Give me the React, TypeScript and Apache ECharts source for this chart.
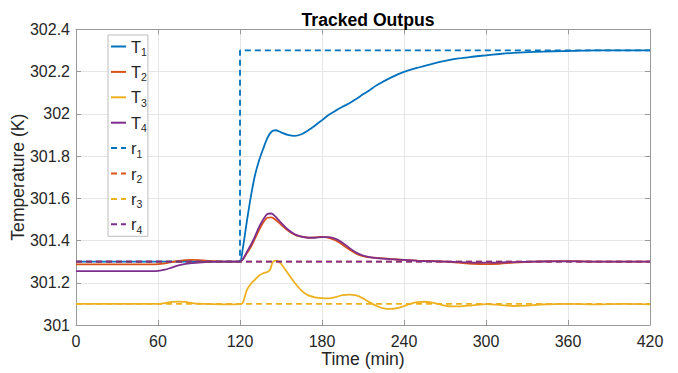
import { useEffect, useRef } from 'react';
import * as echarts from 'echarts';

// Time samples (min) for T1, T2, T4
const timeT = [0, 20, 40, 55, 60, 65, 70, 75, 80, 85, 90, 95, 100, 110, 118, 120, 122, 125, 128, 131, 134, 137, 140, 143, 146, 150, 155, 160, 165, 170, 175, 180, 185, 190, 195, 200, 205, 210, 215, 220, 230, 240, 250, 260, 270, 280, 290, 300, 310, 320, 335, 350, 365, 380, 400, 420];
const t1Values = [301.3, 301.3, 301.3, 301.3, 301.3, 301.3, 301.3, 301.3, 301.3, 301.3, 301.3, 301.3, 301.3, 301.3, 301.3, 301.3, 301.36, 301.49, 301.61, 301.71, 301.78, 301.835, 301.885, 301.915, 301.922, 301.912, 301.9, 301.895, 301.903, 301.922, 301.945, 301.97, 301.995, 302.015, 302.033, 302.05, 302.07, 302.092, 302.113, 302.135, 302.17, 302.198, 302.218, 302.235, 302.25, 302.262, 302.27, 302.277, 302.283, 302.288, 302.293, 302.296, 302.298, 302.3, 302.3, 302.3];
const t2Values = [301.287, 301.287, 301.287, 301.287, 301.288, 301.292, 301.298, 301.303, 301.307, 301.308, 301.307, 301.305, 301.303, 301.3, 301.3, 301.3, 301.31, 301.34, 301.37, 301.41, 301.45, 301.485, 301.508, 301.51, 301.498, 301.475, 301.447, 301.428, 301.418, 301.414, 301.415, 301.417, 301.413, 301.4, 301.38, 301.357, 301.338, 301.326, 301.32, 301.318, 301.313, 301.308, 301.305, 301.303, 301.3, 301.295, 301.29, 301.288, 301.29, 301.295, 301.3, 301.302, 301.302, 301.3, 301.3, 301.3];
const t4Values = [301.255, 301.255, 301.255, 301.255, 301.256, 301.262, 301.272, 301.282, 301.289, 301.293, 301.296, 301.298, 301.299, 301.3, 301.3, 301.3, 301.31, 301.345, 301.38, 301.42, 301.465, 301.5, 301.525, 301.528, 301.513, 301.485, 301.452, 301.43, 301.418, 301.413, 301.413, 301.416, 301.416, 301.408, 301.39, 301.365, 301.343, 301.329, 301.321, 301.317, 301.312, 301.308, 301.304, 301.302, 301.3, 301.298, 301.296, 301.295, 301.296, 301.298, 301.3, 301.301, 301.301, 301.3, 301.3, 301.3];

// Time samples (min) for T3
const timeT3 = [0, 20, 40, 60, 65, 70, 75, 80, 85, 90, 100, 110, 120, 122, 125, 128, 131, 134, 137, 140, 142, 144, 147, 150, 155, 160, 165, 170, 175, 180, 185, 190, 195, 200, 205, 210, 215, 220, 225, 230, 235, 240, 245, 250, 255, 260, 265, 270, 275, 280, 290, 300, 310, 320, 330, 340, 360, 380, 400, 420];
const t3Values = [301.1, 301.1, 301.1, 301.1, 301.104, 301.109, 301.111, 301.109, 301.104, 301.101, 301.099, 301.098, 301.099, 301.105, 301.165, 301.195, 301.215, 301.234, 301.245, 301.251, 301.262, 301.298, 301.305, 301.29, 301.245, 301.2, 301.163, 301.14, 301.131, 301.127, 301.126, 301.132, 301.141, 301.144, 301.14, 301.126, 301.107, 301.09, 301.079, 301.076, 301.08, 301.09, 301.101, 301.108, 301.11, 301.107, 301.1, 301.092, 301.088, 301.088, 301.093, 301.099, 301.095, 301.09, 301.092, 301.097, 301.1, 301.098, 301.1, 301.098];

// Reference set-points
const timeR = [0, 120, 120, 420];
const r1Values = [301.3, 301.3, 302.3, 302.3];
const r2Values = [301.3, 301.3, 301.3, 301.3];
const r3Values = [301.1, 301.1, 301.1, 301.1];
const r4Values = [301.3, 301.3, 301.3, 301.3];

const seriesNames = ['T1', 'T2', 'T3', 'T4', 'r1', 'r2', 'r3', 'r4'];
const xTicks = { min: 0, max: 420, interval: 60 };
const yTicks = { min: 301, max: 302.4, interval: 0.2 };

const COLORS = ['#0072BD', '#D95319', '#EDB120', '#7E2F8E'];
const FONT = 'Liberation Sans, Arial, Helvetica, sans-serif';
const TEXT = '#262626';
const AXIS = '#9a9a9a';

export default function App() {
  const ref = useRef<HTMLDivElement>(null);
  useEffect(() => {
    const chart = echarts.init(ref.current!, null, { renderer: 'svg' });
    const zip = (xs: number[], ys: number[]) => xs.map((x, i) => [x, ys[i]]);
    const solid = (name: string, xs: number[], ys: number[], color: string) => ({
      name, type: 'line', data: zip(xs, ys), symbol: 'none', showSymbol: false, smooth: 0.3,
      lineStyle: { width: 1.8, color }, itemStyle: { color }, z: 2,
    });
    const dashed = (name: string, ys: number[], color: string) => ({
      name, type: 'line', data: zip(timeR, ys), symbol: 'none', showSymbol: false,
      lineStyle: { width: 1.8, color, type: [6, 4] }, itemStyle: { color }, z: 3,
    });
    const axisCommon = {
      axisLine: { show: true, onZero: false, lineStyle: { color: AXIS, width: 1 } },
      axisTick: { show: true, inside: true, length: 5, lineStyle: { color: AXIS } },
    };
    chart.setOption({
      animation: false,
      backgroundColor: '#ffffff',
      textStyle: { fontFamily: FONT },
      title: {
        text: 'Tracked Outpus', left: 363, top: 6, textAlign: 'center',
        textStyle: { fontSize: 17.6, fontWeight: 'bold', color: '#000', fontFamily: FONT },
      },
      legend: {
        data: seriesNames,
        orient: 'vertical', left: 108, top: 35,
        itemWidth: 15, itemHeight: 10, itemGap: 5.9,
        padding: [3, 1, 1, 2],
        backgroundColor: '#ffffff', borderColor: '#bdbdbd', borderWidth: 1,
        itemStyle: { opacity: 0 },
        formatter: (n: string) => `{b|${n[0]}}{s|${n[1]}}`,
        textStyle: {
          color: TEXT, fontFamily: FONT,
          rich: {
            b: { fontSize: 16.5, lineHeight: 22, color: TEXT, fontFamily: FONT },
            s: { fontSize: 10.5, lineHeight: 7, verticalAlign: 'bottom', color: TEXT, fontFamily: FONT },
          },
        },
      },
      grid: { left: 76, right: 28, top: 29.3, bottom: 48, show: false, outerBoundsMode: 'none', containLabel: false },
      xAxis: [
        {
          type: 'value', ...xTicks, position: 'bottom',
          name: 'Time (min)', nameLocation: 'middle', nameGap: 25, nameMoveOverlap: false,
          nameTextStyle: { fontSize: 17.6, color: TEXT, fontFamily: FONT, verticalAlign: 'top' },
          ...axisCommon,
          axisLabel: { fontSize: 16, color: TEXT, margin: 8, fontFamily: FONT },
          splitLine: { show: true, lineStyle: { color: '#e6e6e6', width: 1 } },
        },
        {
          type: 'value', ...xTicks, position: 'top', ...axisCommon,
          axisLabel: { show: false }, splitLine: { show: false },
        },
      ],
      yAxis: [
        {
          type: 'value', ...yTicks, position: 'left',
          name: 'Temperature (K)', nameLocation: 'middle', nameGap: 49, nameMoveOverlap: false,
          nameTextStyle: { fontSize: 17.6, color: TEXT, fontFamily: FONT },
          ...axisCommon,
          axisLabel: {
            fontSize: 16, color: TEXT, margin: 6, fontFamily: FONT,
            formatter: (v: number) => String(parseFloat(v.toFixed(1))),
          },
          splitLine: { show: true, lineStyle: { color: '#e6e6e6', width: 1 } },
        },
        {
          type: 'value', ...yTicks, position: 'right', ...axisCommon,
          axisLabel: { show: false }, splitLine: { show: false },
        },
      ],
      series: [
        solid('T1', timeT, t1Values, COLORS[0]),
        solid('T2', timeT, t2Values, COLORS[1]),
        solid('T3', timeT3, t3Values, COLORS[2]),
        solid('T4', timeT, t4Values, COLORS[3]),
        dashed('r1', r1Values, COLORS[0]),
        dashed('r2', r2Values, COLORS[1]),
        dashed('r3', r3Values, COLORS[2]),
        dashed('r4', r4Values, COLORS[3]),
      ],
    });
    return () => chart.dispose();
  }, []);
  return (
    <div
      ref={ref}
      style={{ position: 'absolute', left: 0, top: 0, width: 678, height: 373, background: '#fff' }}
    />
  );
}
